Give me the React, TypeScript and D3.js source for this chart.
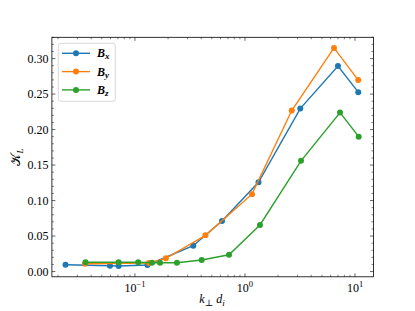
import React from 'react';
import * as d3 from 'd3';

// data
const kBx = [0.0234, 0.0593, 0.0711, 0.13, 0.339, 0.618, 1.327, 3.18, 7.0, 10.7];
const valBx = [0.0096, 0.0082, 0.0078, 0.0092, 0.0364, 0.0712, 0.1258, 0.2296, 0.2894, 0.2527];

const kBy = [0.0351, 0.134, 0.191, 0.4375, 1.158, 2.66, 6.44, 10.7];
const valBy = [0.011, 0.012, 0.0186, 0.051, 0.109, 0.2268, 0.315, 0.2697];

const kBz = [0.0356, 0.0711, 0.107, 0.143, 0.169, 0.241, 0.404, 0.716, 1.369, 3.23, 7.31, 10.8];
const valBz = [0.013, 0.013, 0.013, 0.0124, 0.0124, 0.0124, 0.0162, 0.0236, 0.0656, 0.156, 0.224, 0.19];

const seriesNames = ['x', 'y', 'z'];
const seriesColors = ['#1f77b4', '#ff7f0e', '#2ca02c'];
const yTicks = [0, 0.05, 0.1, 0.15, 0.2, 0.25, 0.3];
const xMajor = [-1, 0, 1];

const W = 415;
const H = 311;
const left = 51.9;
const right = 373.5;
const top = 37.3;
const bottom = 276.8;
const font = '"Liberation Serif", "DejaVu Serif", serif';

export default function App() {
  const x = d3.scaleLog().domain([0.0176, 14.72]).range([left, right]);
  const y = d3.scaleLinear().domain([-0.0074, 0.33]).range([bottom, top]);

  const series = [
    { k: kBx, v: valBx },
    { k: kBy, v: valBy },
    { k: kBz, v: valBz },
  ];

  const line = d3
    .line<[number, number]>()
    .x((d) => x(d[0]))
    .y((d) => y(d[1]));

  // minor ticks
  const xMinor: number[] = [];
  for (let e = -2; e <= 1; e++) {
    for (let m = 2; m <= 9; m++) {
      const val = m * Math.pow(10, e);
      if (val > x.domain()[0] && val < x.domain()[1]) xMinor.push(val);
    }
  }
  const yMinor = d3.range(-0.0, 0.331, 0.01).filter((v) => !yTicks.some((t) => Math.abs(t - v) < 1e-6));

  const lg = { x: 58.3, y: 43.3, w: 57, h: 58 };

  return (
    <svg width={W} height={H} style={{ position: 'fixed', left: 0, top: 0, background: '#fff' }} fontFamily={font}>
      <rect x={0} y={0} width={W} height={H} fill="#fff" />

      {series.map((s, i) => {
        const pts = s.k.map((k, j) => [k, s.v[j]] as [number, number]);
        return (
          <g key={i}>
            <path d={line(pts) || ''} fill="none" stroke={seriesColors[i]} strokeWidth={1.4} />
            {pts.map((p, j) => (
              <circle key={j} cx={x(p[0])} cy={y(p[1])} r={3} fill={seriesColors[i]} />
            ))}
          </g>
        );
      })}

      {/* frame */}
      <rect x={left} y={top} width={right - left} height={bottom - top} fill="none" stroke="#000" strokeWidth={0.8} />

      {/* y ticks */}
      {yTicks.map((t) => (
        <g key={t}>
          <line x1={left} x2={left + 3.5} y1={y(t)} y2={y(t)} stroke="#000" strokeWidth={0.6} />
          <line x1={right} x2={right - 3.5} y1={y(t)} y2={y(t)} stroke="#000" strokeWidth={0.6} />
          <text x={left - 3.5} y={y(t)} textAnchor="end" dominantBaseline="central" fontSize={12}>
            {t.toFixed(2)}
          </text>
        </g>
      ))}
      {yMinor.map((t) => (
        <g key={'m' + t}>
          <line x1={left} x2={left + 2} y1={y(t)} y2={y(t)} stroke="#000" strokeWidth={0.5} />
          <line x1={right} x2={right - 2} y1={y(t)} y2={y(t)} stroke="#000" strokeWidth={0.5} />
        </g>
      ))}

      {/* x ticks */}
      {xMajor.map((e) => {
        const px = x(Math.pow(10, e));
        return (
          <g key={e}>
            <line x1={px} x2={px} y1={bottom} y2={bottom - 3.5} stroke="#000" strokeWidth={0.6} />
            <line x1={px} x2={px} y1={top} y2={top + 3.5} stroke="#000" strokeWidth={0.6} />
            <text x={px} y={bottom + 15} textAnchor="middle" fontSize={12}>
              10
              <tspan dy={-5} fontSize={8.5}>
                {e === -1 ? '\u22121' : String(e)}
              </tspan>
            </text>
          </g>
        );
      })}
      {xMinor.map((v) => (
        <g key={'xm' + v}>
          <line x1={x(v)} x2={x(v)} y1={bottom} y2={bottom - 2} stroke="#000" strokeWidth={0.5} />
          <line x1={x(v)} x2={x(v)} y1={top} y2={top + 2} stroke="#000" strokeWidth={0.5} />
        </g>
      ))}

      {/* axis labels */}
      <text x={212} y={303} textAnchor="middle" fontSize={12} fontStyle="italic">
        k<tspan dy={3} fontSize={9} fontStyle="normal">⊥</tspan>
        <tspan dy={-3}> d</tspan>
        <tspan dy={3} fontSize={9}>i</tspan>
      </text>
      <text transform={`translate(20,${(top + bottom) / 2}) rotate(-90)`} textAnchor="middle" fontSize={13}>
        <tspan fontFamily='"DejaVu Sans", serif'>𝒦</tspan>
        <tspan dy={3} fontSize={9} fontStyle="italic">L</tspan>
      </text>

      {/* legend */}
      <rect x={lg.x} y={lg.y} width={lg.w} height={lg.h} rx={2.5} fill="#fff" fillOpacity={0.8} stroke="#d0d0d0" strokeWidth={0.8} />
      {seriesNames.map((n, i) => {
        const ly = 53.3 + i * 18.3;
        return (
          <g key={n}>
            <line x1={62} x2={90} y1={ly} y2={ly} stroke={seriesColors[i]} strokeWidth={1.4} />
            <circle cx={76} cy={ly} r={3} fill={seriesColors[i]} />
            <text x={97} y={ly} dominantBaseline="central" fontSize={12} fontStyle="italic" fontWeight="bold">
              B<tspan dy={3} fontSize={9}>{n}</tspan>
            </text>
          </g>
        );
      })}
    </svg>
  );
}
